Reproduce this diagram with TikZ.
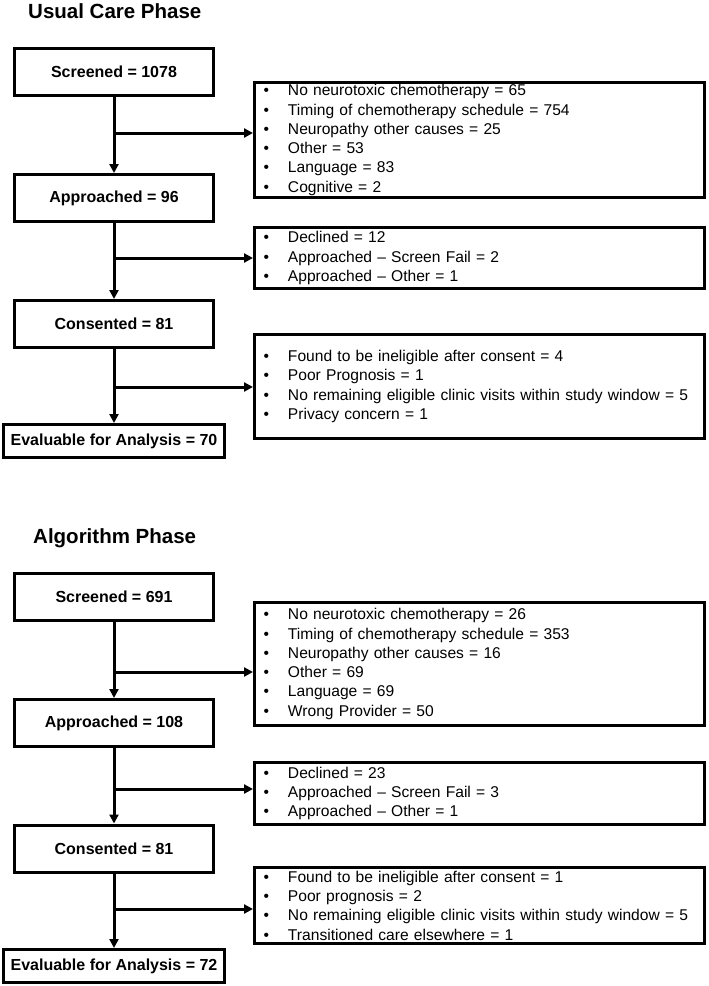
\documentclass[tikz,border=0pt]{standalone}
\usepackage{fontspec}
\setmainfont{Liberation Sans}
\usetikzlibrary{arrows.meta}
\tikzset{
 stage/.style={draw, line width=3pt, minimum width=199pt, minimum height=47pt, inner sep=0pt,
  font=\bfseries\fontsize{16}{19}\selectfont},
 reasons/.style={draw, line width=3pt, text width=438pt, inner xsep=6pt, inner ysep=0pt, align=left,
  font=\fontsize{15.6}{19.3}\selectfont},
 flow/.style={line width=3pt, -{Triangle[length=9pt,width=9pt]}},
 phase/.style={anchor=base west, inner sep=0pt, font=\bfseries\fontsize{20.5}{24}\selectfont}
}
\newcommand{\bul}{\hspace*{3pt}\makebox[24.5pt][l]{\textbullet}}

\begin{document}
\begin{tikzpicture}[x=1pt,y=-1pt]
 \useasboundingbox (0,0) rectangle (709,986);
 \node[phase] (ttlA) at (28,18) {Usual Care Phase};
 \node[stage] (scrA) at (114,72) {Screened = 1078};
 \node[stage] (appA) at (114,198) {Approached = 96};
 \node[stage] (conA) at (114,324) {Consented = 81};
 \node[stage, minimum width=221pt, minimum height=33pt] (evaA) at (114,441) {Evaluable for Analysis = 70};
 \node[reasons, minimum height=115pt] (rsnA1) at (479.5,140) {\bul No neurotoxic chemotherapy = 65\\
  \bul Timing of chemotherapy schedule = 754\\ \bul Neuropathy other causes = 25\\
  \bul Other = 53\\ \bul Language = 83\\ \bul Cognitive = 2};
 \node[reasons, minimum height=61pt] (rsnA2) at (479.5,258) {\bul Declined = 12\\
  \bul Approached -- Screen Fail = 2\\ \bul Approached -- Other = 1};
 \node[reasons, minimum height=104pt] (rsnA3) at (479.5,386.5) {\bul Found to be ineligible after consent = 4\\
  \bul Poor Prognosis = 1\\ \bul No remaining eligible clinic visits within study window = 5\\
  \bul Privacy concern = 1};
 \coordinate (brA1) at (114,133);
 \coordinate (brA2) at (114,258);
 \coordinate (brA3) at (114,387);
 \draw[flow] (scrA) -- (appA);
 \draw[flow] (appA) -- (conA);
 \draw[flow] (conA) -- (evaA);
 \draw[flow] (brA1) -- (brA1 -| rsnA1.west);
 \draw[flow] (brA2) -- (brA2 -| rsnA2.west);
 \draw[flow] (brA3) -- (brA3 -| rsnA3.west);

 \node[phase] (ttlB) at (33,543) {Algorithm Phase};
 \node[stage] (scrB) at (114,597) {Screened = 691};
 \node[stage] (appB) at (114,723) {Approached = 108};
 \node[stage] (conB) at (114,848.5) {Consented = 81};
 \node[stage, minimum width=221pt, minimum height=33pt] (evaB) at (114,966) {Evaluable for Analysis = 72};
 \node[reasons, minimum height=123pt] (rsnB1) at (479.5,664) {\bul No neurotoxic chemotherapy = 26\\
  \bul Timing of chemotherapy schedule = 353\\ \bul Neuropathy other causes = 16\\
  \bul Other = 69\\ \bul Language = 69\\ \bul Wrong Provider = 50};
 \node[reasons, minimum height=62pt] (rsnB2) at (479.5,793.5) {\bul Declined = 23\\
  \bul Approached -- Screen Fail = 3\\ \bul Approached -- Other = 1};
 \node[reasons, minimum height=76pt] (rsnB3) at (479.5,905.5) {\bul Found to be ineligible after consent = 1\\
  \bul Poor prognosis = 2\\ \bul No remaining eligible clinic visits within study window = 5\\
  \bul Transitioned care elsewhere = 1};
 \coordinate (brB1) at (114,672);
 \coordinate (brB2) at (114,789);
 \coordinate (brB3) at (114,909);
 \draw[flow] (scrB) -- (appB);
 \draw[flow] (appB) -- (conB);
 \draw[flow] (conB) -- (evaB);
 \draw[flow] (brB1) -- (brB1 -| rsnB1.west);
 \draw[flow] (brB2) -- (brB2 -| rsnB2.west);
 \draw[flow] (brB3) -- (brB3 -| rsnB3.west);
\end{tikzpicture}
\end{document}
